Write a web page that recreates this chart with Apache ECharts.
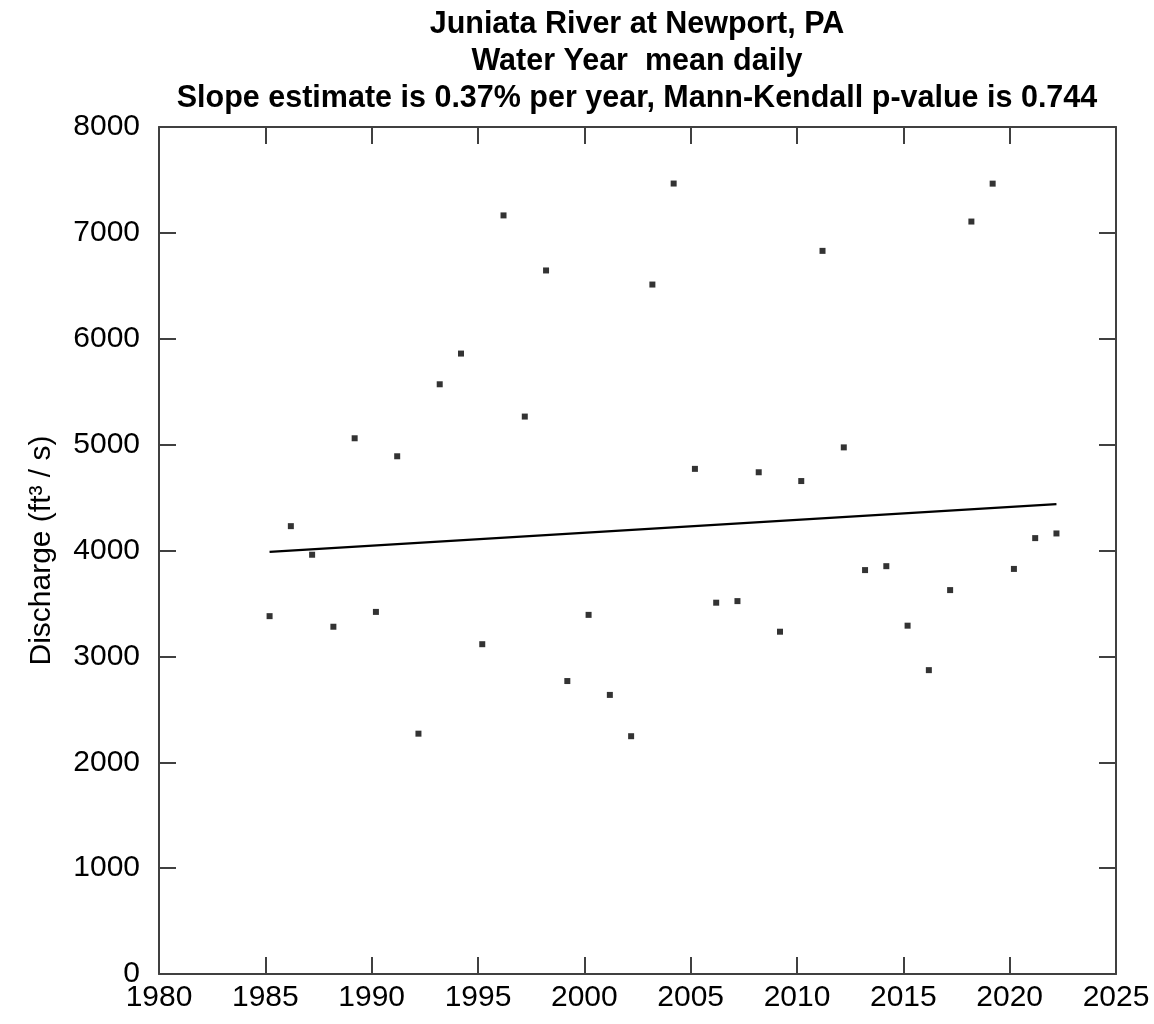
<!DOCTYPE html>
<html>
<head>
<meta charset="utf-8">
<script src="https://cdn.jsdelivr.net/npm/echarts@6/dist/echarts.min.js"></script>
<style>
html,body{margin:0;padding:0;background:#fff;}
#chart{width:1154px;height:1024px;}
</style>
</head>
<body>
<div id="chart"></div>
<script>
// Water years and mean daily discharge (ft3/s)
var waterYears = [1985,1986,1987,1988,1989,1990,1991,1992,1993,1994,1995,1996,1997,1998,1999,2000,2001,2002,2003,2004,2005,2006,2007,2008,2009,2010,2011,2012,2013,2014,2015,2016,2017,2018,2019,2020,2021,2022];
var discharge = [3380,4230,3960,3280,5060,3420,4890,2270,5570,5860,3115,7165,5265,6645,2767,3392,2636,2246,6512,7466,4771,3507,3522,4739,3233,4656,6830,4974,3815,3852,3290,2870,3626,7107,7465,3826,4117,4161];
var yearOffset = 0.2; // points plotted at decimal year within water year
var trendX = [1985.2, 2022.2];
var trendY = [3987, 4438];
var xTicks = {min:1980, max:2025, interval:5};
var yTicks = {min:0, max:8000, interval:1000};
var titleLines = ['Juniata River at Newport, PA','Water Year  mean daily','Slope estimate is 0.37% per year, Mann-Kendall p-value is 0.744'];
var yAxisTitle = 'Discharge (ft\u00B3 / s)';

var pts = waterYears.map(function(y,i){return [y+yearOffset, discharge[i]];});
var trend = trendX.map(function(x,i){return [x, trendY[i]];});

var chart = echarts.init(document.getElementById('chart'), null, {renderer:'canvas'});
var axisCol = '#404040';
var font = '"Liberation Sans", Arial, sans-serif';
function plain(v){ return String(v); }
function xAx(pos, showLabel){
  return {type:'value', position:pos, min:xTicks.min, max:xTicks.max, interval:xTicks.interval,
    axisLine:{show:true, onZero:false, lineStyle:{color:axisCol, width:2}},
    axisTick:{show:true, inside:true, length:17, lineStyle:{color:axisCol, width:2}},
    axisLabel:{show:showLabel, color:'#000', fontSize:30, fontFamily:font, margin:9, formatter:plain},
    splitLine:{show:false}};
}
function yAx(pos, showLabel){
  return {type:'value', position:pos, min:yTicks.min, max:yTicks.max, interval:yTicks.interval,
    axisLine:{show:true, onZero:false, lineStyle:{color:axisCol, width:2}},
    axisTick:{show:true, inside:true, length:17, lineStyle:{color:axisCol, width:2}},
    axisLabel:{show:showLabel, color:'#000', fontSize:30, fontFamily:font, margin:19, formatter:plain},
    splitLine:{show:false}};
}
var yl = yAx('left', true);
yl.name = yAxisTitle;
yl.nameLocation = 'middle';
yl.nameGap = 102;
yl.nameTextStyle = {color:'#000', fontSize:30, fontFamily:font};
var yr = yAx('right', false);
var xb = xAx('bottom', true);
var xt = xAx('top', false);

chart.setOption({
  animation:false,
  backgroundColor:'#fff',
  grid:{left:159, right:38, top:127, bottom:50, containLabel:false},
  xAxis:[xb, xt],
  yAxis:[yl, yr],
  graphic:[{
    type:'text', x:637, y:6, z:10,
    style:{text:titleLines.join('\n'), textAlign:'center', textVerticalAlign:'top', fill:'#000',
      font:'bold 30.5px "Liberation Sans", Arial, sans-serif', lineHeight:37}
  }],
  series:[
    {type:'scatter', xAxisIndex:0, yAxisIndex:0, data:pts, symbol:'rect', symbolSize:6,
      itemStyle:{color:'#000'}, silent:true},
    {type:'line', xAxisIndex:0, yAxisIndex:0, data:trend, showSymbol:false, symbol:'none',
      lineStyle:{color:'#000', width:2.5}, silent:true}
  ]
});
</script>
</body>
</html>
